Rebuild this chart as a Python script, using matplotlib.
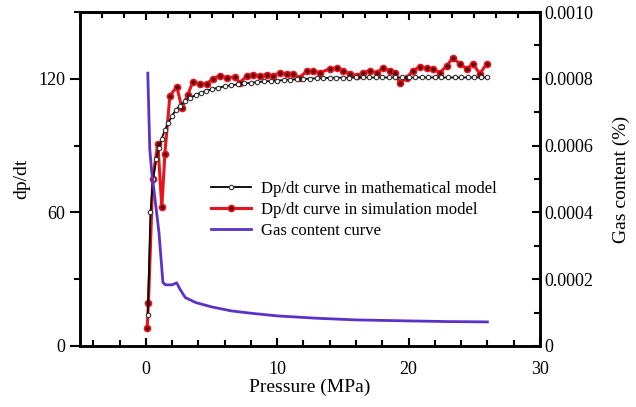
import numpy as np
import matplotlib.pyplot as plt
from matplotlib.ticker import MultipleLocator

plt.rcParams['font.family'] = ['Liberation Serif', 'DejaVu Serif']
plt.rcParams['mathtext.fontset'] = 'stix'

# Dp/dt curve in mathematical model
math_x = [0.15, 0.35, 0.55, 0.8, 1.0, 1.2, 1.45, 1.7, 2.0, 2.3, 2.6, 3.0, 3.4, 3.8,
          4.2, 4.6, 5.0, 5.5, 6.0, 6.5, 7.0, 7.5, 8.0, 8.5, 9.0, 9.5, 10.0, 10.5,
          11.0, 11.5, 12.0, 12.5, 13.0, 13.5, 14.0, 14.5, 15.0, 15.5, 16.0, 16.5,
          17.0, 17.5, 18.0, 18.5, 19.0, 19.5, 20.0, 20.5, 21.0, 21.5, 22.0, 22.5,
          23.0, 23.5, 24.0, 24.5, 25.0, 25.5, 26.0]
math_y = [14, 60, 75, 84, 89, 93, 97, 100, 103.5, 106, 108, 110, 111.5, 112.8,
          113.8, 114.6, 115.3, 116, 116.6, 117.1, 117.5, 117.9, 118.2, 118.5, 118.8,
          119, 119.2, 119.4, 119.6, 119.8, 119.9, 120.1, 120.2, 120.3, 120.4, 120.5,
          120.5, 120.5, 120.6, 120.6, 120.6, 120.6, 120.6, 120.6, 120.6, 120.6,
          120.6, 120.6, 120.6, 120.6, 120.6, 120.6, 120.6, 120.6, 120.6, 120.6,
          120.6, 120.6, 120.6]

# Dp/dt curve in simulation model
sim_x = [0.1, 0.2, 0.53, 0.91, 1.22, 1.45, 1.83, 2.36, 2.74, 3.2, 3.58, 4.1, 4.64,
         5.1, 5.63, 6.16, 6.77, 7.15, 7.69, 8.14, 8.68, 9.2, 9.66, 10.2, 10.73,
         11.19, 11.72, 12.25, 12.7, 13.24, 14.0, 14.54, 15.0, 15.53, 16.06, 16.5,
         17.05, 17.58, 18.04, 18.57, 18.95, 19.33, 19.86, 20.32, 20.85, 21.38,
         21.84, 22.37, 22.9, 23.36, 23.9, 24.43, 24.89, 25.42, 25.95]
sim_y = [8.1, 19.3, 75.2, 90.9, 62.2, 86.4, 112.4, 116.4, 107, 112.9, 118.7, 117.8,
         117.8, 120, 121.4, 120.5, 120.9, 118.2, 121.4, 121.8, 121.4, 121.8, 121.4,
         122.7, 122.3, 122.3, 120.5, 123.6, 123.6, 122.7, 124.5, 124.9, 123.6, 122.3,
         121.4, 122.7, 123.6, 122.7, 124.9, 123.6, 122.7, 118.2, 120.5, 123.6, 125.4,
         124.9, 124.5, 122.7, 125.8, 129.4, 126.7, 124.5, 126.7, 122.3, 126.7]

# Gas content curve
gas_x = [0.15, 0.3, 0.45, 0.7, 1.0, 1.3, 1.5, 2.0, 2.35, 2.6, 3.0, 3.8, 5.0, 6.5,
         8.0, 10.0, 13.0, 16.0, 20.0, 23.0, 26.0]
gas_y = [8.17e-4, 5.9e-4, 5.2e-4, 4.4e-4, 3.4e-4, 1.9e-4, 1.83e-4, 1.83e-4, 1.89e-4,
         1.7e-4, 1.45e-4, 1.3e-4, 1.17e-4, 1.05e-4, 0.98e-4, 0.9e-4, 0.83e-4,
         0.78e-4, 0.75e-4, 0.73e-4, 0.72e-4]

fig = plt.figure(figsize=(6.36, 4.07), dpi=100)
ax = fig.add_axes([0.126, 0.15, 0.723, 0.8205])
ax2 = ax.twinx()

l1, = ax.plot(math_x, math_y, color='black', lw=1.3, marker='o', ms=3.2,
              mfc='white', mec='#333333', mew=0.8, zorder=4,
              label='Dp/dt curve in mathematical model')
l2, = ax.plot(sim_x, sim_y, color='#e8141c', lw=2.2, marker='o', ms=4.3,
              mfc='#5a0a0a', mec='#e8141c', mew=1.2, zorder=3,
              label='Dp/dt curve in simulation model')
l3, = ax2.plot(gas_x, gas_y, color='#5a32c8', lw=2,
               label='Gas content curve')

ax.set_xlim(-5, 30)
ax.set_ylim(0, 150)
ax2.set_ylim(0, 0.001)

ax.set_xticks([0, 10, 20, 30])
ax.xaxis.set_minor_locator(MultipleLocator(2))
ax.set_yticks([0, 60, 120])
ax.yaxis.set_minor_locator(MultipleLocator(30))
ax2.set_yticks([0, 0.0002, 0.0004, 0.0006, 0.0008, 0.001])
ax2.set_yticklabels(['0', '0.0002', '0.0004', '0.0006', '0.0008', '0.0010'])
ax2.yaxis.set_minor_locator(MultipleLocator(0.0001))

ax.tick_params(axis='x', which='both', direction='in', top=False, labelsize=13,
               width=1.5, pad=11)
ax.tick_params(axis='x', which='major', length=6)
ax.tick_params(axis='x', which='minor', length=4)
ax.tick_params(axis='y', which='both', direction='out', labelsize=13, width=1.5)
ax.tick_params(axis='y', which='major', length=7)
ax.tick_params(axis='y', which='minor', length=4)
ax2.tick_params(axis='y', which='both', direction='in', labelsize=13, width=1.5, pad=3)
ax2.tick_params(axis='y', which='major', length=6)
ax2.tick_params(axis='y', which='minor', length=4)

top = ax.secondary_xaxis('top')
top.set_xticks([0, 10, 20, 30])
top.xaxis.set_minor_locator(MultipleLocator(10 / 6))
top.tick_params(which='both', direction='in', labeltop=False, width=1.5)
top.tick_params(which='major', length=6)
top.tick_params(which='minor', length=4)

for a in (ax, ax2):
    for s in a.spines.values():
        s.set_linewidth(1.8)
top.spines['top'].set_linewidth(1.8)

ax.set_xlabel('Pressure (MPa)', fontsize=14, labelpad=0)
ax.set_ylabel('dp/dt', fontsize=14, labelpad=6)
ax2.set_ylabel('Gas content (%)', fontsize=14, labelpad=14)

ax2.legend(handles=[l1, l2, l3], loc='upper left', bbox_to_anchor=(0.27, 0.515),
           frameon=False, fontsize=12, handlelength=2.4, handletextpad=0.6,
           labelspacing=0.3, borderaxespad=0)

fig.savefig('out.png', dpi=100)
